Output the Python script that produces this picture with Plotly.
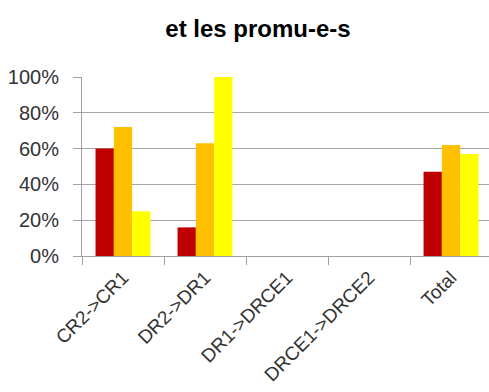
import plotly.graph_objects as go

categories = ["CR2->CR1", "DR2->DR1", "DR1->DRCE1", "DRCE1->DRCE2", "Total"]
series_red = [0.60, 0.16, None, None, 0.47]
series_orange = [0.72, 0.63, None, None, 0.62]
series_yellow = [0.25, 1.00, None, None, 0.57]
y_ticks = [0, 0.2, 0.4, 0.6, 0.8, 1.0]
y_tick_labels = ["0%", "20%", "40%", "60%", "80%", "100%"]

colors = ["#C00000", "#FFC000", "#FFFF00"]
names = ["série 1", "série 2", "série 3"]

fig = go.Figure()
for vals, col, nm in zip([series_red, series_orange, series_yellow], colors, names):
    fig.add_trace(go.Bar(x=categories, y=vals, name=nm, marker=dict(color=col, line=dict(width=0))))

x_tick_font = dict(family="Liberation Sans, Arial", size=19, color="#333333")
y_tick_font = dict(family="Liberation Sans, Arial", size=20, color="#333333")

fig.update_layout(
    width=489, height=392,
    margin=dict(l=82, r=0, t=77, b=136),
    paper_bgcolor="white", plot_bgcolor="white",
    barmode="group", bargap=0.33, bargroupgap=0,
    showlegend=False,
    title=dict(text="<b>et les promu-e-s</b>", x=258/489, xanchor="center",
               y=1 - 29/392, yanchor="middle", yref="container",
               font=dict(family="Liberation Sans, Arial", size=24, color="black")),
)
fig.update_xaxes(
    type="category", range=[-0.5, 4.463], automargin=False,
    showline=True, linecolor="#A0A0A0", linewidth=1,
    ticks="outside", tickson="boundaries", ticklen=8, tickcolor="#A0A0A0",
    tickangle=-45, tickfont=x_tick_font, showgrid=False, ticklabelstandoff=2,
)
fig.update_yaxes(
    range=[0, 1], tickvals=y_ticks, ticktext=y_tick_labels, automargin=False,
    showline=True, linecolor="#A0A0A0", linewidth=1,
    ticks="outside", ticklen=8, tickcolor="#A0A0A0",
    showgrid=True, gridcolor="#A6A6A6", gridwidth=1,
    zeroline=False, tickfont=y_tick_font, ticklabelstandoff=10,
)
fig.write_html("out.html")
